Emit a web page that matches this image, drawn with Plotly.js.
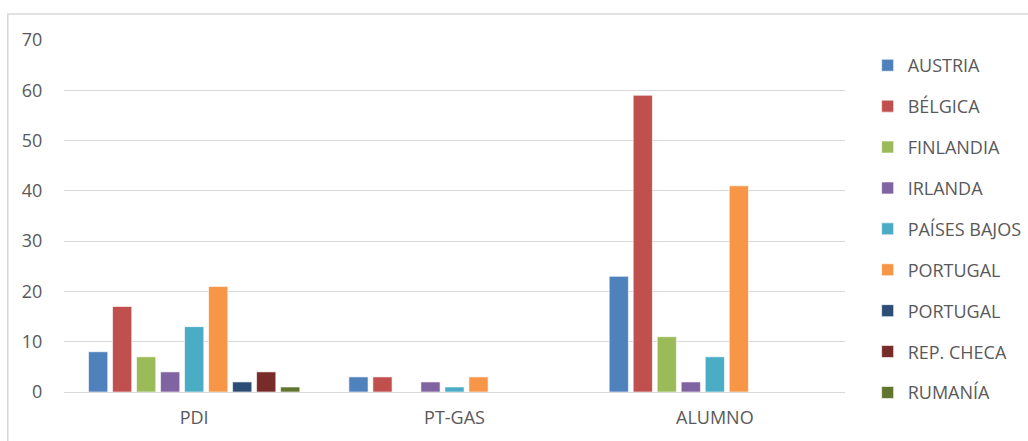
<!DOCTYPE html>
<html>
<head>
<meta charset="utf-8">
<script src="https://cdn.plot.ly/plotly-3.0.1.min.js"></script>
<style>html,body{margin:0;padding:0;background:#fff;}#chart{width:1028px;height:441px;}</style>
</head>
<body>
<div id="chart"></div>
<script>
const categories = ["PDI", "PT-GAS", "ALUMNO"];
const seriesNames = ["AUSTRIA", "BÉLGICA", "FINLANDIA", "IRLANDA", "PAÍSES BAJOS", "PORTUGAL", "PORTUGAL", "REP. CHECA", "RUMANÍA"];
const austria     = [8, 3, 23];
const belgica     = [17, 3, 59];
const finlandia   = [7, 0, 11];
const irlanda     = [4, 2, 2];
const paisesBajos = [13, 1, 7];
const portugal1   = [21, 3, 41];
const portugal2   = [2, 0, 0];
const repCheca    = [4, 0, 0];
const rumania     = [1, 0, 0];
const seriesValues = [austria, belgica, finlandia, irlanda, paisesBajos, portugal1, portugal2, repCheca, rumania];
const colors = ["#4F81BD", "#C0504D", "#9BBB59", "#8064A2", "#4BACC6", "#F79646", "#2C4D75", "#772C2A", "#5F7530"];
const yTicks = [0, 10, 20, 30, 40, 50, 60, 70];

const font = {family: "Open Sans, sans-serif", size: 17, color: "#595959"};

const traces = seriesNames.map((name, i) => ({
  type: "bar",
  name: name,
  x: categories,
  y: seriesValues[i],
  legendgroup: "g" + i,
  marker: {color: colors[i], line: {color: "#ffffff", width: 0.6}},
  hoverinfo: "x+y+name"
}));

const layout = {
  width: 1028,
  height: 441,
  margin: {l: 64, r: 183, t: 40, b: 49, autoexpand: false},
  paper_bgcolor: "#ffffff",
  plot_bgcolor: "#ffffff",
  font: font,
  barmode: "group",
  bargap: 0.17,
  bargroupgap: 0.2,
  showlegend: true,
  legend: {
    x: 1.029, y: 0.98, xanchor: "left", yanchor: "top",
    font: {family: "Open Sans, sans-serif", size: 18, color: "#595959"},
    tracegroupgap: 14.5,
    bgcolor: "rgba(0,0,0,0)"
  },
  xaxis: {
    type: "category",
    showgrid: false,
    zeroline: false,
    showline: true,
    linecolor: "#d9d9d9",
    linewidth: 1,
    ticks: "outside",
    ticklen: 9,
    tickcolor: "rgba(0,0,0,0)",
    tickfont: {family: "Open Sans, sans-serif", size: 18, color: "#595959"}
  },
  yaxis: {
    range: [0, 70],
    tickvals: yTicks,
    ticktext: yTicks.map(String),
    showgrid: true,
    gridcolor: "#d9d9d9",
    gridwidth: 1,
    zeroline: false,
    showline: false,
    ticks: "outside",
    ticklen: 17,
    tickcolor: "rgba(0,0,0,0)",
    tickfont: {family: "Open Sans, sans-serif", size: 18, color: "#595959"}
  },
  shapes: [{
    type: "rect", xref: "paper", yref: "paper",
    x0: -0.072, x1: 1.3, y0: -0.3, y1: 1.074,
    line: {color: "#d9d9d9", width: 1.5}, fillcolor: "rgba(0,0,0,0)", layer: "below"
  }]
};

Plotly.newPlot("chart", traces, layout, {displayModeBar: false, staticPlot: true});
</script>
</body>
</html>
